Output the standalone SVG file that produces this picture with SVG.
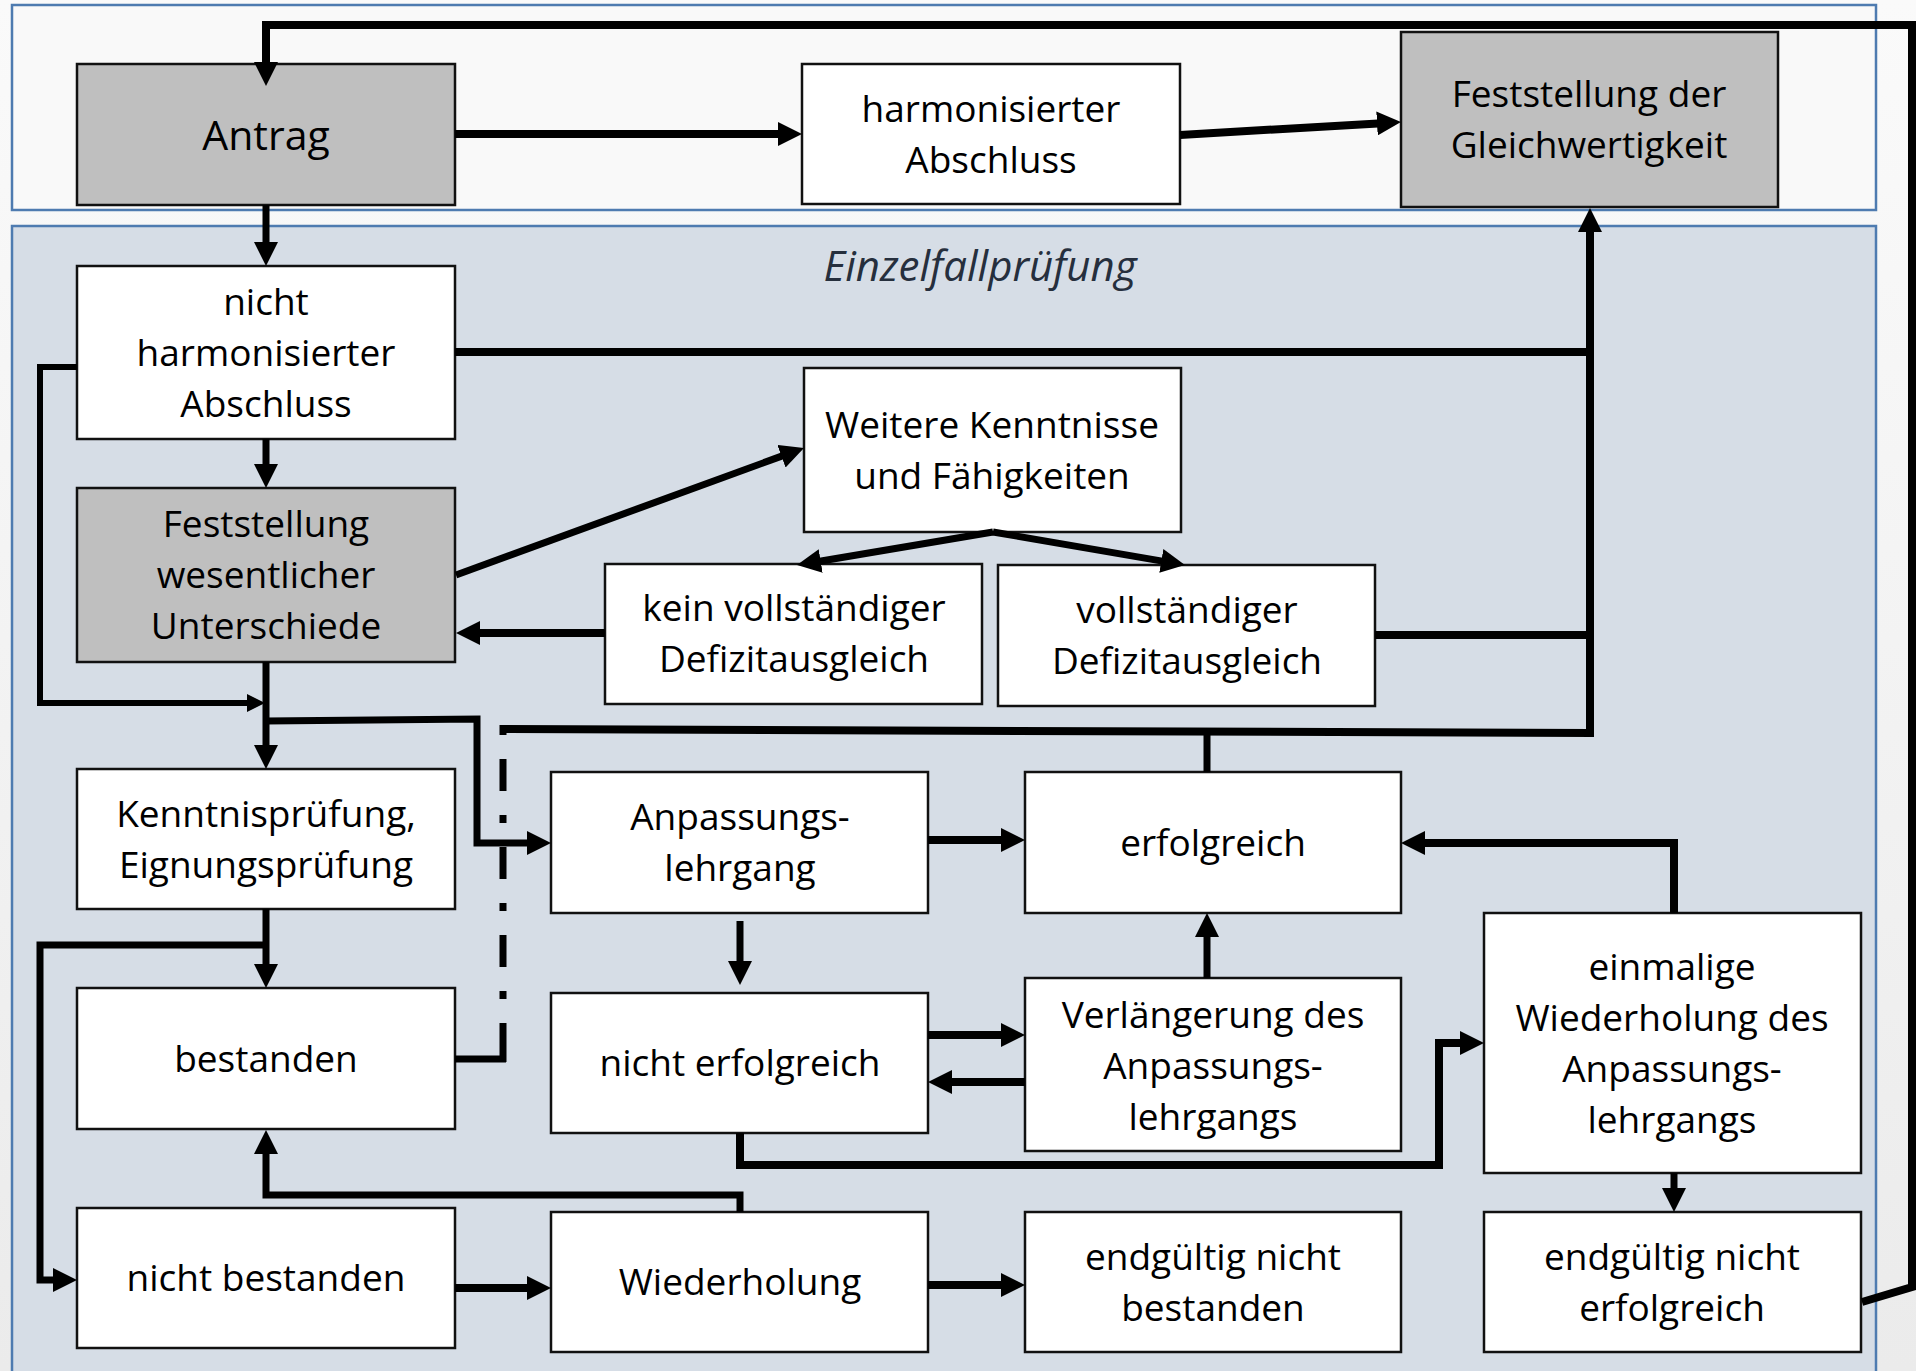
<svg xmlns="http://www.w3.org/2000/svg" width="1916" height="1371" viewBox="0 0 1916 1371">
<defs>
  <linearGradient id="bg" x1="0" y1="0" x2="0" y2="1">
    <stop offset="0" stop-color="#fafafa"/>
    <stop offset="1" stop-color="#ebebeb"/>
  </linearGradient>
  <marker id="ah" markerUnits="userSpaceOnUse" markerWidth="24" markerHeight="24" viewBox="0 0 24 24" refX="1" refY="12" orient="auto">
    <path d="M0,0 L24,12 L0,24 Z" fill="#000"/>
  </marker>
  <marker id="ahs" markerUnits="userSpaceOnUse" markerWidth="18" markerHeight="18" viewBox="0 0 18 18" refX="1" refY="9" orient="auto">
    <path d="M0,0 L18,9 L0,18 Z" fill="#000"/>
  </marker>
  <style>
    .panel{stroke:#4e7bb0;stroke-width:2.5}
    .box{stroke:#111;stroke-width:2.5}
    .w{fill:#fff}
    .g{fill:#bfbfbf}
    .t{font-family:"Open Sans","Liberation Sans",sans-serif;font-size:37px;fill:#000;text-anchor:middle}
    .big{font-size:41px}
    .title{font-family:"Open Sans","Liberation Sans",sans-serif;font-size:42px;font-style:italic;fill:#262f3d;text-anchor:middle}
    .c{fill:none;stroke:#000;stroke-width:8;stroke-linejoin:miter;stroke-linecap:butt}
    .c7{stroke-width:7}
    .c6{stroke-width:6}
    .a{marker-end:url(#ah)}
    .as{marker-end:url(#ahs)}
  </style>
</defs>

<rect x="0" y="0" width="1916" height="1371" fill="url(#bg)"/>

<g id="panel-top">
  <rect class="panel" x="12" y="5" width="1864" height="205" fill="#f9f9f9"/>
</g>
<g id="panel-einzelfall">
  <rect class="panel" x="12" y="226" width="1864" height="1160" fill="#d6dde6"/>
  <text class="title" x="980" y="281">Einzelfallprüfung</text>
</g>

<g id="n-antrag">
  <rect class="box g" x="77" y="64" width="378" height="141"/>
  <text class="t big" x="266" y="150">Antrag</text>
</g>
<g id="n-harmonisiert">
  <rect class="box w" x="802" y="64" width="378" height="140"/>
  <text class="t" x="991" y="122">harmonisierter</text>
  <text class="t" x="991" y="173">Abschluss</text>
</g>
<g id="n-gleichwertigkeit">
  <rect class="box g" x="1401" y="32" width="377" height="175"/>
  <text class="t" x="1589" y="107">Feststellung der</text>
  <text class="t" x="1589" y="158">Gleichwertigkeit</text>
</g>
<g id="n-nicht-harmonisiert">
  <rect class="box w" x="77" y="266" width="378" height="173"/>
  <text class="t" x="266" y="315">nicht</text>
  <text class="t" x="266" y="366">harmonisierter</text>
  <text class="t" x="266" y="417">Abschluss</text>
</g>
<g id="n-weitere">
  <rect class="box w" x="804" y="368" width="377" height="164"/>
  <text class="t" x="992" y="438">Weitere Kenntnisse</text>
  <text class="t" x="992" y="489">und Fähigkeiten</text>
</g>
<g id="n-unterschiede">
  <rect class="box g" x="77" y="488" width="378" height="174"/>
  <text class="t" x="266" y="537">Feststellung</text>
  <text class="t" x="266" y="588">wesentlicher</text>
  <text class="t" x="266" y="639">Unterschiede</text>
</g>
<g id="n-kein-ausgleich">
  <rect class="box w" x="605" y="564" width="377" height="140"/>
  <text class="t" x="794" y="621">kein vollständiger</text>
  <text class="t" x="794" y="672">Defizitausgleich</text>
</g>
<g id="n-voll-ausgleich">
  <rect class="box w" x="998" y="565" width="377" height="141"/>
  <text class="t" x="1187" y="623">vollständiger</text>
  <text class="t" x="1187" y="674">Defizitausgleich</text>
</g>
<g id="n-pruefung">
  <rect class="box w" x="77" y="769" width="378" height="140"/>
  <text class="t" x="266" y="827">Kenntnisprüfung,</text>
  <text class="t" x="266" y="878">Eignungsprüfung</text>
</g>
<g id="n-anpassung">
  <rect class="box w" x="551" y="772" width="377" height="141"/>
  <text class="t" x="740" y="830">Anpassungs-</text>
  <text class="t" x="740" y="881">lehrgang</text>
</g>
<g id="n-erfolgreich">
  <rect class="box w" x="1025" y="772" width="376" height="141"/>
  <text class="t" x="1213" y="856">erfolgreich</text>
</g>
<g id="n-einmalige">
  <rect class="box w" x="1484" y="913" width="377" height="260"/>
  <text class="t" x="1672" y="980">einmalige</text>
  <text class="t" x="1672" y="1031">Wiederholung des</text>
  <text class="t" x="1672" y="1082">Anpassungs-</text>
  <text class="t" x="1672" y="1133">lehrgangs</text>
</g>
<g id="n-bestanden">
  <rect class="box w" x="77" y="988" width="378" height="141"/>
  <text class="t" x="266" y="1072">bestanden</text>
</g>
<g id="n-nicht-erfolgreich">
  <rect class="box w" x="551" y="993" width="377" height="140"/>
  <text class="t" x="740" y="1076">nicht erfolgreich</text>
</g>
<g id="n-verlaengerung">
  <rect class="box w" x="1025" y="978" width="376" height="173"/>
  <text class="t" x="1213" y="1028">Verlängerung des</text>
  <text class="t" x="1213" y="1079">Anpassungs-</text>
  <text class="t" x="1213" y="1130">lehrgangs</text>
</g>
<g id="n-nicht-bestanden">
  <rect class="box w" x="77" y="1208" width="378" height="140"/>
  <text class="t" x="266" y="1291">nicht bestanden</text>
</g>
<g id="n-wiederholung">
  <rect class="box w" x="551" y="1212" width="377" height="140"/>
  <text class="t" x="740" y="1295">Wiederholung</text>
</g>
<g id="n-endg-nicht-bestanden">
  <rect class="box w" x="1025" y="1212" width="376" height="140"/>
  <text class="t" x="1213" y="1270">endgültig nicht</text>
  <text class="t" x="1213" y="1321">bestanden</text>
</g>
<g id="n-endg-nicht-erfolgreich">
  <rect class="box w" x="1484" y="1212" width="377" height="140"/>
  <text class="t" x="1672" y="1270">endgültig nicht</text>
  <text class="t" x="1672" y="1321">erfolgreich</text>
</g>

<g id="connectors">
  <path class="c a" d="M1862 1302 L1912 1287 L1912 25 L266 25 L266 63"/>
  <path class="c a" d="M455 134 L779 134"/>
  <path class="c a" d="M1180 135 L1378 123.4"/>
  <path class="c c7 a" d="M266 205 L266 243"/>
  <path class="c c7 a" d="M266 439 L266 465"/>
  <path class="c" d="M455 352 L1590 352"/>
  <path class="c c6 as" d="M77 367 L40 367 L40 703 L248 703"/>
  <path class="c c7 a" d="M456 575 L782.4 455.9"/>
  <path class="c c7 a" d="M993 532 L819.7 561.2"/>
  <path class="c c7 a" d="M993 532 L1162.3 561.1"/>
  <path class="c a" d="M605 633 L479 633"/>
  <path class="c" d="M1375 635 L1590 635"/>
  <path class="c a" d="M500 729 L1590 733 L1590 231"/>
  <path class="c c7" d="M1207 772 L1207 733"/>
  <path class="c c7 a" d="M266 662 L266 746"/>
  <path class="c c7 a" d="M266 721 L477 719 L477 843 L528 843"/>
  <path class="c c7 a" d="M266 909 L266 965"/>
  <path class="c c7 a" d="M266 945 L40 945 L40 1280 L54 1280"/>
  <path class="c c7" d="M455 1059 L506 1059"/>
  <path class="c c7" d="M503 1062 L503 725" stroke-dasharray="39 24 8 24 32 24 8 24 32 24 8 24 32 24 10"/>
  <path class="c a" d="M455 1288 L528 1288"/>
  <path class="c c7 a" d="M740 1212 L740 1195 L266 1195 L266 1153"/>
  <path class="c a" d="M928 1285 L1002 1285"/>
  <path class="c a" d="M928 840 L1002 840"/>
  <path class="c c7 a" d="M740 921 L740 962"/>
  <path class="c a" d="M928 1035 L1002 1035"/>
  <path class="c a" d="M1025 1082 L951 1082"/>
  <path class="c c7 a" d="M1207 978 L1207 936"/>
  <path class="c a" d="M740 1133 L740 1165 L1439 1165 L1439 1043 L1461 1043"/>
  <path class="c a" d="M1674 913 L1674 843 L1424 843"/>
  <path class="c c7 a" d="M1674 1173 L1674 1189"/>
</g>
</svg>
